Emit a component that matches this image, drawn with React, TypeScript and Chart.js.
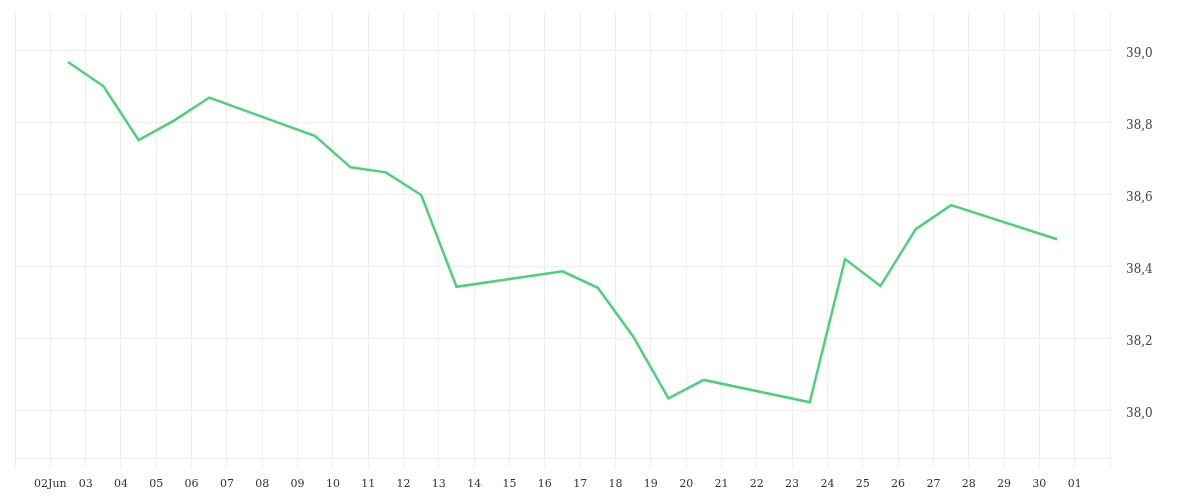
import React, { useEffect, useRef } from "react";
import { Chart, registerables } from "chart.js";

Chart.register(...registerables);

// ---- data ----
const dates: string[] = [
  "2024-06-02T12:00:00Z", "2024-06-03T12:00:00Z", "2024-06-04T12:00:00Z", "2024-06-05T12:00:00Z", "2024-06-06T12:00:00Z",
  "2024-06-09T12:00:00Z", "2024-06-10T12:00:00Z", "2024-06-11T12:00:00Z", "2024-06-12T12:00:00Z", "2024-06-13T12:00:00Z",
  "2024-06-16T12:00:00Z", "2024-06-17T12:00:00Z", "2024-06-18T12:00:00Z", "2024-06-19T12:00:00Z", "2024-06-20T12:00:00Z",
  "2024-06-23T12:00:00Z", "2024-06-24T12:00:00Z", "2024-06-25T12:00:00Z", "2024-06-26T12:00:00Z", "2024-06-27T12:00:00Z",
  "2024-06-30T12:00:00Z",
];
const values: number[] = [
  38.969, 38.902, 38.752, 38.806, 38.870,
  38.763, 38.676, 38.662, 38.599, 38.344,
  38.387, 38.341, 38.206, 38.034, 38.085,
  38.023, 38.421, 38.346, 38.504, 38.571,
  38.476,
];
const rangeStart = "2024-06-01T00:00:00Z";
const rangeEnd = "2024-07-02T00:00:00Z";
const xTickLabels: string[] = [
  "", "02Jun", "03", "04", "05", "06", "07", "08", "09", "10", "11", "12", "13", "14", "15", "16",
  "17", "18", "19", "20", "21", "22", "23", "24", "25", "26", "27", "28", "29", "30", "01", "",
];
const yTickValues: number[] = [38.0, 38.2, 38.4, 38.6, 38.8, 39.0];
const yMin = 37.868;
const yMax = 39.105;

const DAY = 86400000;
const t0 = Date.parse(rangeStart);
const toDay = (s: string) => (Date.parse(s) - t0) / DAY;

export default function App() {
  const ref = useRef<HTMLCanvasElement | null>(null);
  useEffect(() => {
    if (!ref.current) return;
    const points = dates.map((d, i) => ({ x: toDay(d), y: values[i] }));
    const xMax = toDay(rangeEnd);
    const gridColor = "#eeeeee";
    const chart = new Chart(ref.current, {
      type: "line",
      data: {
        datasets: [
          {
            data: points,
            borderColor: "rgb(76, 208, 122)",
            backgroundColor: "rgb(76, 208, 122)",
            borderWidth: 2.5,
            pointRadius: 0,
            tension: 0,
            fill: false,
          },
        ],
      },
      options: {
        animation: false,
        responsive: true,
        maintainAspectRatio: false,
        layout: { padding: { top: 5, left: 7, right: 0, bottom: 0 } },
        plugins: { legend: { display: false }, tooltip: { enabled: false } },
        scales: {
          x: {
            type: "linear",
            min: 0,
            max: xMax,
            afterBuildTicks: (scale: any) => {
              scale.ticks = xTickLabels.map((_, i) => ({ value: i }));
            },
            afterFit: (scale: any) => {
              scale.height = 34;
              scale.paddingLeft = 0;
              scale.paddingRight = 0;
            },
            grid: { color: gridColor, tickLength: 9, drawTicks: true },
            border: { display: true, color: gridColor },
            ticks: {
              autoSkip: false,
              maxRotation: 0,
              padding: 11,
              color: "#333",
              font: { family: "'DejaVu Serif', serif", size: 11 },
              callback: (v: any) => xTickLabels[Math.round(Number(v))] ?? "",
            },
          },
          y: {
            type: "linear",
            position: "right",
            min: yMin,
            max: yMax,
            afterBuildTicks: (scale: any) => {
              scale.ticks = yTickValues.map((v) => ({ value: v }));
            },
            afterFit: (scale: any) => {
              scale.width = 82;
              scale.paddingTop = 0;
              scale.paddingBottom = 0;
            },
            grid: { color: gridColor, drawTicks: false },
            border: { display: true, color: gridColor },
            ticks: {
              padding: 16,
              labelOffset: 3,
              color: "#444",
              font: { family: "'DejaVu Serif', serif", size: 12 },
              callback: (v: any) => Number(v).toFixed(1).replace(".", ","),
            },
          },
        },
      },
    });
    return () => chart.destroy();
  }, []);
  return (
    <div style={{ width: 1184, height: 484, position: "relative" }}>
      <canvas ref={ref} />
    </div>
  );
}
